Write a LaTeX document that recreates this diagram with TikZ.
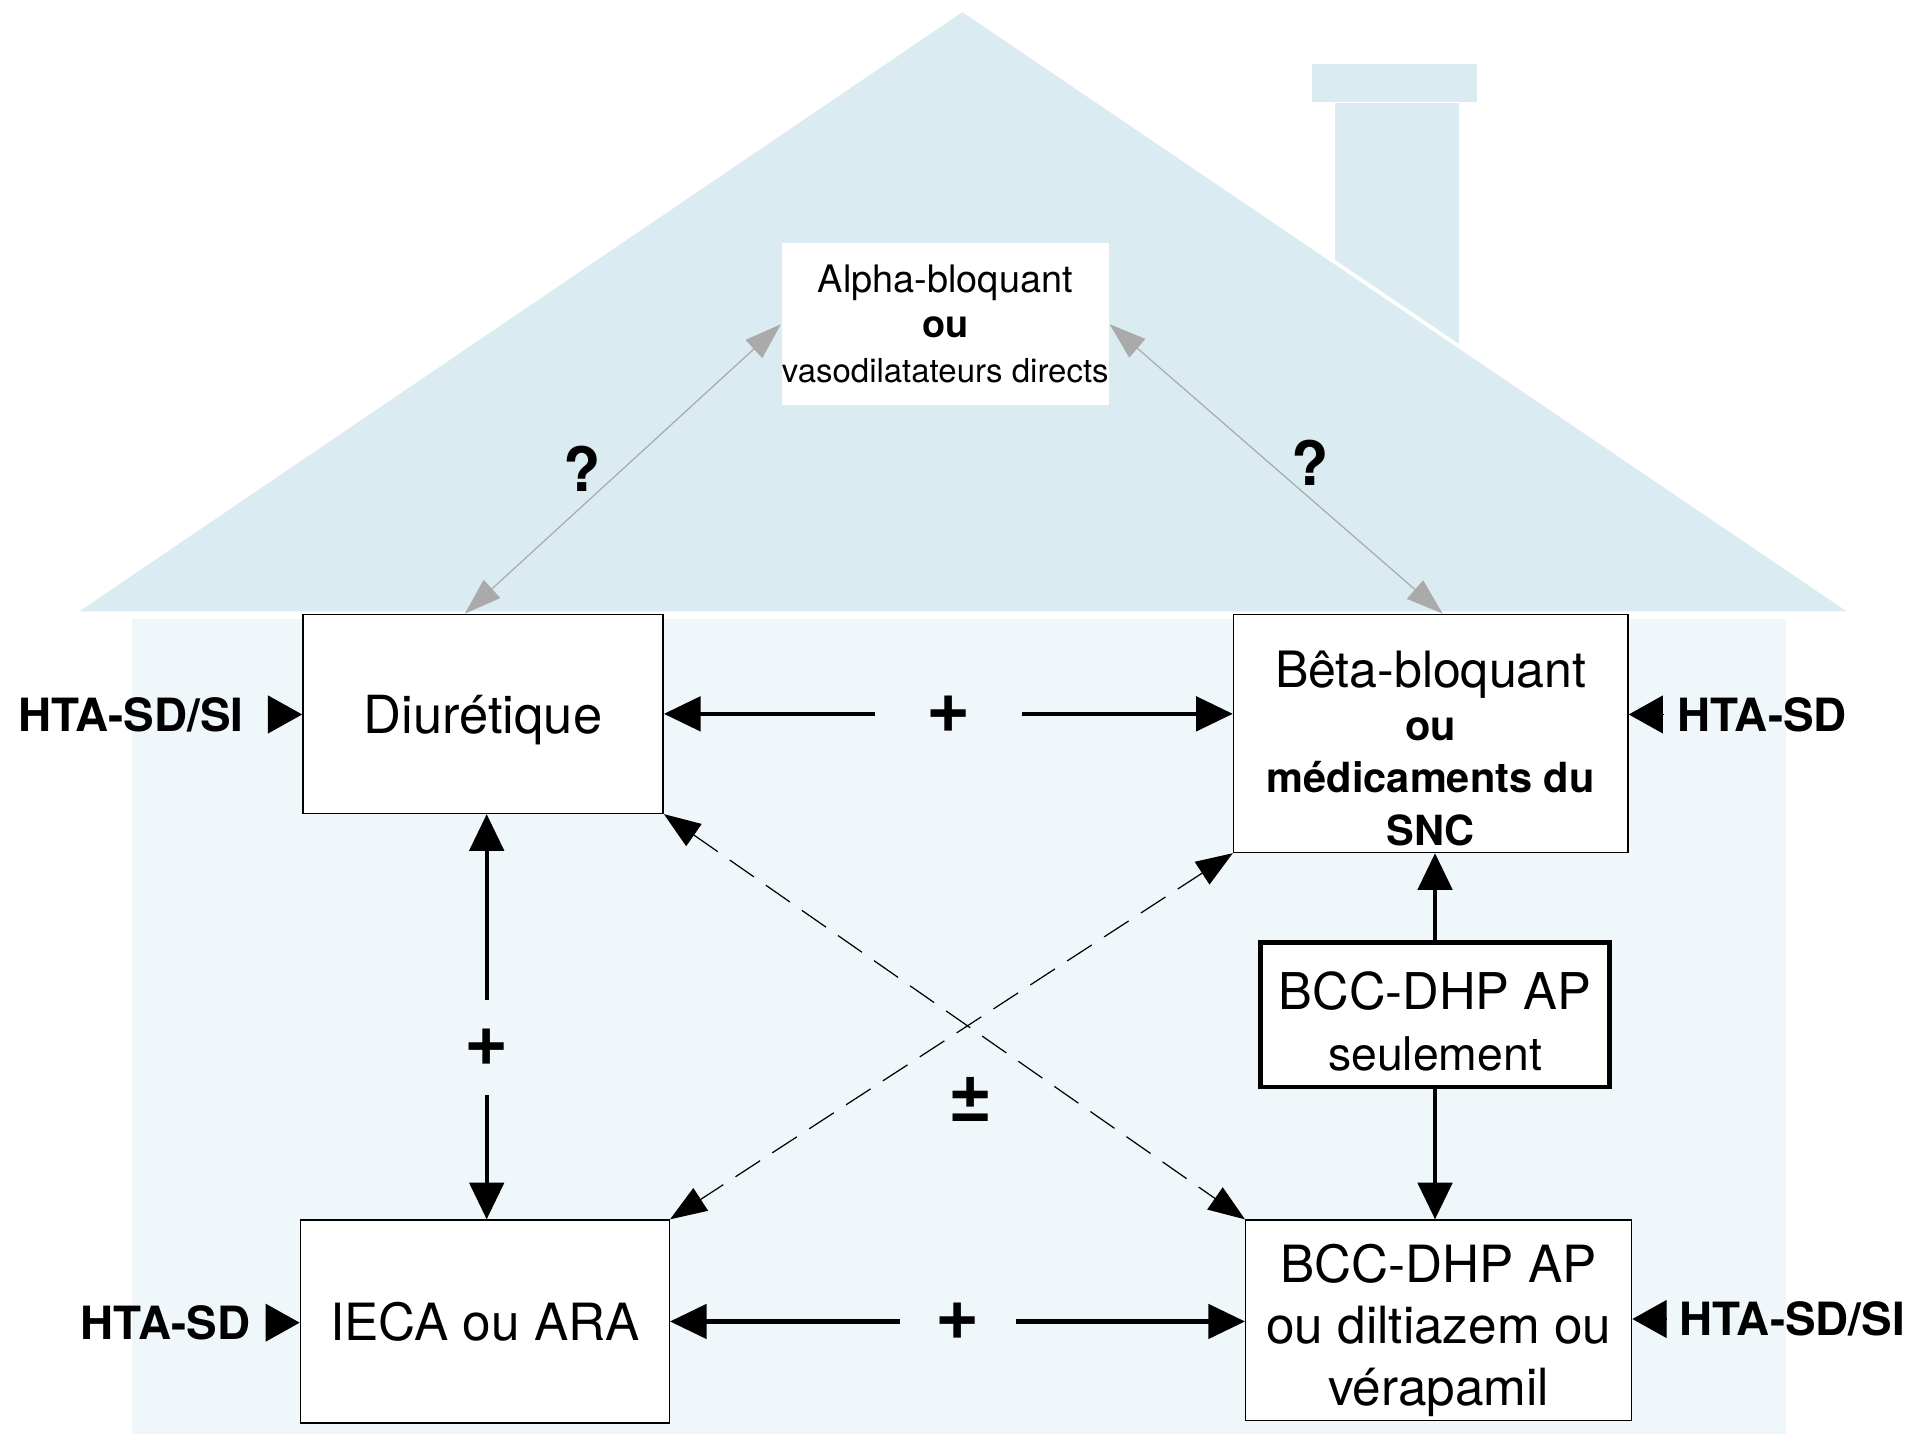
\documentclass[tikz,border=0pt]{standalone}
\usepackage{fontspec}
\setmainfont{TeX Gyre Heros}
\usepackage{tikz}
\usetikzlibrary{arrows.meta, positioning, calc}
\definecolor{roof}{RGB}{218,236,241}
\definecolor{wall}{RGB}{239,247,250}
\definecolor{greyline}{RGB}{170,170,170}

\tikzset{
  drug/.style={draw, fill=white, line width=1.2pt, align=center, inner sep=0pt},
  hta/.style={font=\fontsize{37.5}{42}\selectfont\bfseries, inner sep=0pt},
  sign/.style={text=black, font=\fontsize{62}{66}\selectfont\bfseries, inner sep=0pt},
  pointer/.style={-{Triangle[length=28pt,width=31pt]}, line width=1pt},
  combo/.style={line width=3.5pt, {Triangle[length=30pt,width=28pt]}-{Triangle[length=30pt,width=28pt]}},
  oneway/.style={line width=3.5pt, -{Triangle[length=30pt,width=28pt]}},
  maybe/.style={line width=1pt, dash pattern=on 24pt off 12pt, {Triangle[length=30pt,width=22pt]}-{Triangle[length=30pt,width=22pt]}},
  doubt/.style={greyline, line width=1pt, {Triangle[length=30pt,width=20pt]}-{Triangle[length=30pt,width=20pt]}}
}

\begin{document}
\begin{tikzpicture}[x=1pt, y=-1pt]
  \useasboundingbox (0,0) rectangle (1568,1174);
  % House: chimney, roof and wall
  \fill[roof, draw=white, line width=1pt] (1074,52) rectangle (1210,84);
  \fill[roof] (1093,84) rectangle (1195,290);
  \fill[roof, draw=white, line width=3pt] (60,502) -- (788,8) -- (1517,502) -- cycle;
  \fill[wall] (108,507) rectangle (1462,1174);

  % Drug classes
  \node[drug, draw=none, minimum width=268pt, minimum height=133pt, font=\fontsize{31}{37}\selectfont] (alpha) at (774,265.5)
    {Alpha-bloquant\\ \textbf{ou}\\ \fontsize{27}{37}\selectfont vasodilatateurs directs};
  \node[drug, minimum width=295pt, minimum height=163pt, font=\fontsize{43}{48}\selectfont] (diu) at (395.5,584.5)
    {\raisebox{-5pt}[\height][\depth]{Diurétique}};
  \node[drug, minimum width=323pt, minimum height=195pt, font=\fontsize{34}{43}\selectfont\bfseries] (beta) at (1171.5,600.5)
    {\rule{0pt}{55pt}\mdseries\fontsize{41}{43}\selectfont Bêta-bloquant\\ ou\\ médicaments du\\ SNC};
  \node[drug, minimum width=302pt, minimum height=166pt, font=\fontsize{42}{48}\selectfont] (ieca) at (397,1082) {IECA ou ARA};
  \node[drug, minimum width=316pt, minimum height=164pt, font=\fontsize{42}{50}\selectfont] (bcc) at (1178,1081)
    {\rule{0pt}{48pt}BCC-DHP AP\\ ou diltiazem ou\\ vérapamil};
  \node[drug, line width=4pt, minimum width=286pt, minimum height=118pt, font=\fontsize{41.5}{50}\selectfont] (only) at (1175,831)
    {\rule{0pt}{42pt}BCC-DHP AP\\ \fontsize{38}{50}\selectfont seulement};

  % Indications
  \node[hta] (h1) at (107,585) {HTA-SD/SI};
  \node[hta] (h2) at (1443,585) {HTA-SD};
  \node[hta] (h3) at (135.5,1083) {HTA-SD};
  \node[hta] (h4) at (1467.5,1080) {HTA-SD/SI};
  \draw[pointer] ([xshift=-28pt]h1.east -| diu.west) -- (h1.east -| diu.west);
  \draw[pointer] ([xshift=28pt]h2.west -| beta.east) -- (h2.west -| beta.east);
  \draw[pointer] ([xshift=-28pt]h3.east -| ieca.west) -- (h3.east -| ieca.west);
  \draw[pointer] ([xshift=28pt]h4.west -| bcc.east) -- (h4.west -| bcc.east);

  % Combinations
  \draw[combo] (diu.east) -- node[sign, fill=wall, minimum width=120pt] {+} (diu.east -| beta.west);
  \draw[combo] ([xshift=3pt]diu.south) -- node[sign, fill=wall, pos=0.575, minimum height=78pt] {+} ([xshift=3pt]diu.south |- ieca.north);
  \draw[combo] (ieca.east) -- node[sign, fill=wall, minimum width=95pt] {+} (ieca.east -| bcc.west);
  \draw[oneway] (only.north) -- (only.north |- beta.south);
  \draw[oneway] (only.south) -- (only.south |- bcc.north);
  \draw[maybe] (diu.south east) -- (bcc.north west);
  \draw[maybe] (beta.south west) -- (ieca.north east);
  \node[sign] (pm) at (795,900) {±};

  % Alpha-blockers
  \draw[doubt] (alpha.west) -- node[sign, midway, left=18pt, font=\fontsize{50}{55}\selectfont\bfseries] {?}
    ($(diu.north west)!0.45!(diu.north east)$);
  \draw[doubt] (alpha.east) -- node[sign, midway, right=12pt, yshift=5pt, font=\fontsize{50}{55}\selectfont\bfseries] {?}
    ($(beta.north west)!0.53!(beta.north east)$);
\end{tikzpicture}
\end{document}
